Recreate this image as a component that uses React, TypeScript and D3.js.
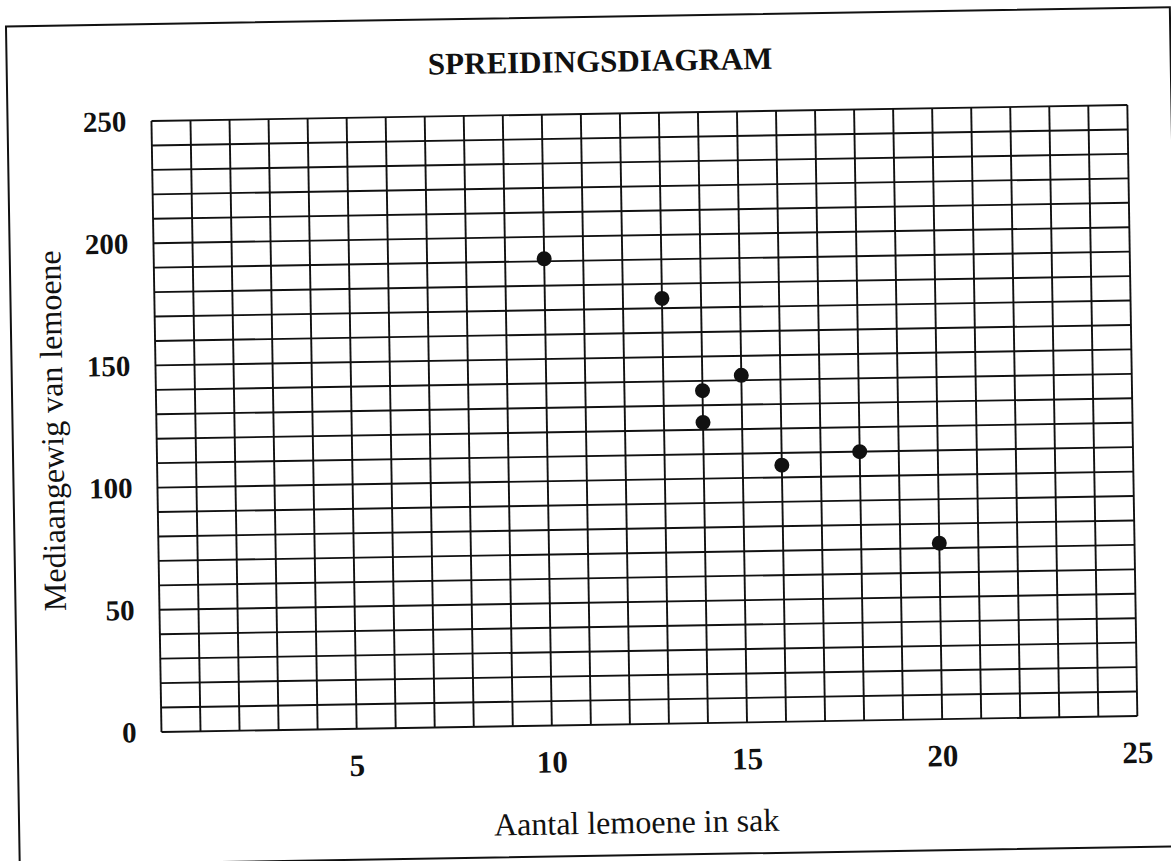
import { useEffect, useRef } from 'react'
import * as d3 from 'd3'

const lemonCount = [10, 13, 14, 14, 15, 16, 18, 20]
const medianMass = [191, 174, 136, 123, 142, 105, 110, 72]

const xTicks = [5, 10, 15, 20, 25]
const yTicks = [0, 50, 100, 150, 200, 250]

const TITLE = 'SPREIDINGSDIAGRAM'
const X_LABEL = 'Aantal lemoene in sak'
const Y_LABEL = 'Mediaangewig van lemoene'

const W = 1171
const H = 861
const P = { left: 156.4, top: 113, right: 1132.4, bottom: 724 }
const SKEW = -0.94 // the scanned page sits slightly tilted
const SERIF = "'Liberation Serif', 'Times New Roman', serif"
const INK = '#111'

export default function App() {
  const svgRef = useRef<SVGSVGElement | null>(null)

  useEffect(() => {
    if (!svgRef.current) return
    const svg = d3.select(svgRef.current)
    svg.selectAll('*').remove()
    svg.attr('width', W).attr('height', H)

    svg.append('rect').attr('width', W).attr('height', H).attr('fill', '#fff')

    const cx = (P.left + P.right) / 2
    const cy = (P.top + P.bottom) / 2 + 0.0
    const page = svg.append('g').attr('transform', `rotate(${SKEW},${cx},${cy})`)

    // page frame
    page.append('rect')
      .attr('x', 12.5).attr('y', 16).attr('width', 1164).attr('height', 839)
      .attr('fill', 'none').attr('stroke', INK).attr('stroke-width', 2)

    const x = d3.scaleLinear().domain([0, 25]).range([P.left, P.right])
    const y = d3.scaleLinear().domain([0, 250]).range([P.bottom, P.top])

    // grid: one column per lemon, one row per 10 g
    page.append('g').selectAll('line').data(d3.range(0, 26, 1)).join('line')
      .attr('x1', d => x(d)).attr('x2', d => x(d))
      .attr('y1', P.top).attr('y2', P.bottom)
      .attr('stroke', INK).attr('stroke-width', 1.9)
    page.append('g').selectAll('line').data(d3.range(0, 251, 10)).join('line')
      .attr('x1', P.left).attr('x2', P.right)
      .attr('y1', d => y(d)).attr('y2', d => y(d))
      .attr('stroke', INK).attr('stroke-width', 1.9)

    // tick labels
    page.append('g').selectAll('text').data(yTicks).join('text')
      .attr('x', P.left - 25).attr('y', d => y(d)).attr('dy', '0.34em')
      .attr('text-anchor', 'end').attr('font-family', SERIF)
      .attr('font-size', 29).attr('font-weight', 700).attr('fill', INK)
      .text(d => d)
    page.append('g').selectAll('text').data(xTicks).join('text')
      .attr('x', d => x(d)).attr('y', P.bottom + 47)
      .attr('text-anchor', 'middle').attr('font-family', SERIF)
      .attr('font-size', 31).attr('font-weight', 700).attr('fill', INK)
      .text(d => d)

    // points
    page.append('g').selectAll('circle').data(lemonCount).join('circle')
      .attr('cx', d => x(d)).attr('cy', (_, i) => y(medianMass[i]))
      .attr('r', 7.5).attr('fill', INK)

    // titles
    page.append('text').attr('x', 606).attr('y', 71)
      .attr('text-anchor', 'middle').attr('font-family', SERIF)
      .attr('font-size', 31).attr('font-weight', 700).attr('fill', INK)
      .text(TITLE)
    page.append('text').attr('x', 630).attr('y', 833)
      .attr('text-anchor', 'middle').attr('font-family', SERIF)
      .attr('font-size', 32).attr('fill', INK)
      .text(X_LABEL)
    page.append('text')
      .attr('transform', `translate(63,421) rotate(-90)`)
      .attr('text-anchor', 'middle').attr('font-family', SERIF)
      .attr('font-size', 32).attr('fill', INK)
      .text(Y_LABEL)
  }, [])

  return (
    <div style={{ position: 'absolute', left: 0, top: 0 }}>
      <svg ref={svgRef} style={{ display: 'block' }} />
    </div>
  )
}
